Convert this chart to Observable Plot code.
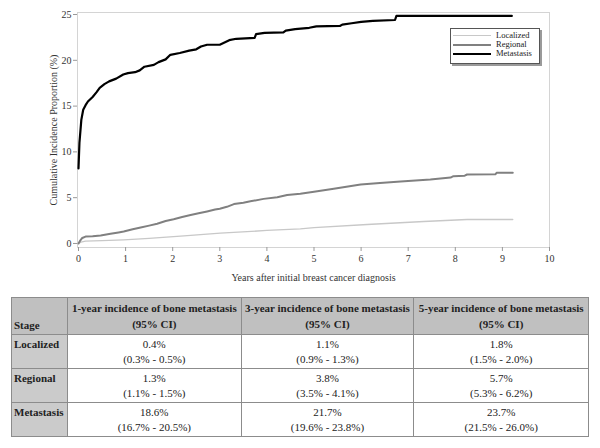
<!DOCTYPE html>
<html>
<head>
<meta charset="utf-8">
<script src="https://cdn.jsdelivr.net/npm/d3@7"></script>
<script src="https://cdn.jsdelivr.net/npm/@observablehq/plot@0.6"></script>
<style>
  html, body { margin: 0; padding: 0; background: #fff; }
  #wrap { position: relative; width: 600px; height: 448px; font-family: "Liberation Serif", "Times New Roman", "DejaVu Serif", serif; }
  #chart svg { display: block; }
  #legend { position: absolute; left: 450px; top: 28px; width: 88px; height: 34px; border: 1px solid #555;
            box-shadow: 2px 2px 0 #9a9a9a; background: #fff; font-size: 8.5px; color: #222; }
  #legend .row { position: absolute; left: 2px; height: 9px; display: flex; align-items: center; }
  #legend .sw { width: 38px; margin-right: 5px; }
  #legend .lab { line-height: 9px; height: 9px; }
  table { position: absolute; left: 11px; top: 297px; width: 578px; border-collapse: collapse; font-size: 11px; color: #222; }
  td, th { border: 1px solid #8c8c8c; padding: 0; }
  th { background: #c0c0c0; font-weight: bold; line-height: 16px; height: 35px; text-align: center; vertical-align: middle; }
  th.stage { text-align: left; vertical-align: bottom; padding-left: 2px; padding-bottom: 1px; }
  td.stage { background: #cbcbcb; font-weight: bold; text-align: left; vertical-align: top; padding-left: 2px; padding-top: 3px; }
  td.val { text-align: center; line-height: 15px; height: 33px; vertical-align: middle; }
</style>
</head>
<body>
<div id="wrap">
  <div id="chart"></div>
  <div id="legend"></div>
  <div id="tbl"></div>
</div>
<script>
// ---- data ----
const stages = ["Localized", "Regional", "Metastasis"];
const stageColors = ["#c8c8c8", "#808080", "#000000"];
const stageWidths = [1.3, 2, 2.2];

const localizedYears = [0, 0.05, 0.15, 0.5, 0.96, 1.5, 2.24, 3.01, 4.0, 4.71, 5.0, 6.13, 7.33, 8.25, 9.22];
const localizedPct   = [0, 0.15, 0.25, 0.3, 0.4, 0.55, 0.84, 1.12, 1.42, 1.6, 1.72, 2.07, 2.4, 2.62, 2.62];

const regionalYears = [0, 0.04, 0.08, 0.15, 0.3, 0.47, 0.68, 0.85, 0.96, 1.15, 1.32, 1.5, 1.67, 1.85, 2.02, 2.2, 2.38, 2.55, 2.73, 2.9, 3.0, 3.15, 3.3, 3.5, 3.65, 3.93, 4.22, 4.43, 4.71, 5.0, 5.42, 5.99, 6.4, 6.84, 7.47, 7.9, 7.96, 8.2, 8.25, 8.85, 8.88, 9.22];
const regionalPct   = [0, 0.35, 0.6, 0.75, 0.8, 0.88, 1.05, 1.2, 1.3, 1.55, 1.75, 1.95, 2.15, 2.45, 2.65, 2.9, 3.1, 3.3, 3.5, 3.7, 3.8, 4.0, 4.3, 4.45, 4.6, 4.87, 5.05, 5.3, 5.42, 5.65, 5.97, 6.44, 6.6, 6.77, 6.99, 7.2, 7.35, 7.4, 7.53, 7.55, 7.72, 7.72];

const metastasisYears = [0, 0.02, 0.06, 0.1, 0.15, 0.2, 0.3, 0.38, 0.45, 0.55, 0.65, 0.8, 0.95, 1.05, 1.2, 1.3, 1.4, 1.6, 1.7, 1.85, 1.95, 2.15, 2.35, 2.5, 2.6, 2.73, 3.0, 3.1, 3.2, 3.35, 3.74, 3.77, 3.95, 4.35, 4.4, 4.6, 4.9, 5.05, 5.55, 5.6, 5.8, 6.0, 6.25, 6.72, 6.75, 9.2];
const metastasisPct   = [8.2, 11.0, 13.5, 14.6, 15.1, 15.5, 16.0, 16.5, 17.0, 17.4, 17.7, 18.0, 18.45, 18.6, 18.7, 18.9, 19.3, 19.5, 19.8, 20.1, 20.6, 20.8, 21.05, 21.2, 21.5, 21.7, 21.7, 21.95, 22.2, 22.35, 22.45, 22.85, 23.0, 23.05, 23.25, 23.4, 23.55, 23.7, 23.75, 23.9, 24.05, 24.2, 24.3, 24.4, 24.85, 24.85];

const xTicks = [0, 1, 2, 3, 4, 5, 6, 7, 8, 9, 10];
const yTicks = [0, 5, 10, 15, 20, 25];
const xLabel = "Years after initial breast cancer diagnosis";
const yLabel = "Cumulative Incidence Proportion (%)";

const tableHeader = ["Stage", "1-year incidence of bone metastasis", "3-year incidence of bone metastasis", "5-year incidence of bone metastasis"];
const tableHeaderSub = "(95% CI)";
const est1 = ["0.4%", "1.3%", "18.6%"];
const ci1  = ["(0.3% - 0.5%)", "(1.1% - 1.5%)", "(16.7% - 20.5%)"];
const est3 = ["1.1%", "3.8%", "21.7%"];
const ci3  = ["(0.9% - 1.3%)", "(3.5% - 4.1%)", "(19.6% - 23.8%)"];
const est5 = ["1.8%", "5.7%", "23.7%"];
const ci5  = ["(1.5% - 2.0%)", "(5.3% - 6.2%)", "(21.5% - 26.0%)"];

// ---- build ----
const series = [
  [localizedYears, localizedPct],
  [regionalYears, regionalPct],
  [metastasisYears, metastasisPct]
];
const rows = [];
series.forEach(([xs, ys], i) => xs.forEach((x, j) => rows.push({stage: stages[i], year: x, pct: ys[j]})));

const lineMarks = stages.map((s, i) =>
  Plot.line(rows.filter(d => d.stage === s), {x: "year", y: "pct", stroke: "stage", strokeWidth: stageWidths[i], curve: "linear"})
);

const chart = Plot.plot({
  width: 600,
  height: 290,
  marginTop: 12,
  marginLeft: 77,
  marginRight: 51,
  marginBottom: 43,
  style: {fontFamily: "'Liberation Serif', 'Times New Roman', serif", fontSize: "10px", color: "#333", background: "#fff"},
  x: {domain: [0, 10], insetLeft: 1},
  y: {domain: [-0.44, 25.22]},
  color: {domain: stages, range: stageColors},
  marks: [
    Plot.frame({stroke: "#d4d4d4"}),
    Plot.axisX({ticks: xTicks, tickSize: 4, tickPadding: 3, stroke: "#999", label: xLabel, labelAnchor: "center", labelArrow: "none", labelOffset: 33}),
    Plot.axisY({ticks: yTicks, tickSize: 4, tickPadding: 2, stroke: "#999", label: yLabel, labelAnchor: "center", labelArrow: "none", labelOffset: 28}),
    ...lineMarks
  ]
});
document.getElementById("chart").appendChild(chart);

// legend
const legend = document.getElementById("legend");
const rowTops = [2, 11, 20];
stages.forEach((s, i) => {
  const r = document.createElement("div");
  r.className = "row";
  r.style.top = rowTops[i] + "px";
  r.innerHTML = `<div class="sw" style="border-top:${stageWidths[i]}px solid ${stageColors[i]}"></div><div class="lab">${s}</div>`;
  legend.appendChild(r);
});

// table
let html = `<table><colgroup><col style="width:56px"><col style="width:174px"><col style="width:173px"><col style="width:175px"></colgroup><tr>`;
html += `<th class="stage">${tableHeader[0]}</th>`;
for (let k = 1; k < 4; k++) html += `<th>${tableHeader[k]}<br>${tableHeaderSub}</th>`;
html += `</tr>`;
stages.forEach((s, i) => {
  html += `<tr><td class="stage">${s}</td>`;
  html += `<td class="val">${est1[i]}<br>${ci1[i]}</td>`;
  html += `<td class="val">${est3[i]}<br>${ci3[i]}</td>`;
  html += `<td class="val">${est5[i]}<br>${ci5[i]}</td></tr>`;
});
html += `</table>`;
document.getElementById("tbl").innerHTML = html;
</script>
</body>
</html>
